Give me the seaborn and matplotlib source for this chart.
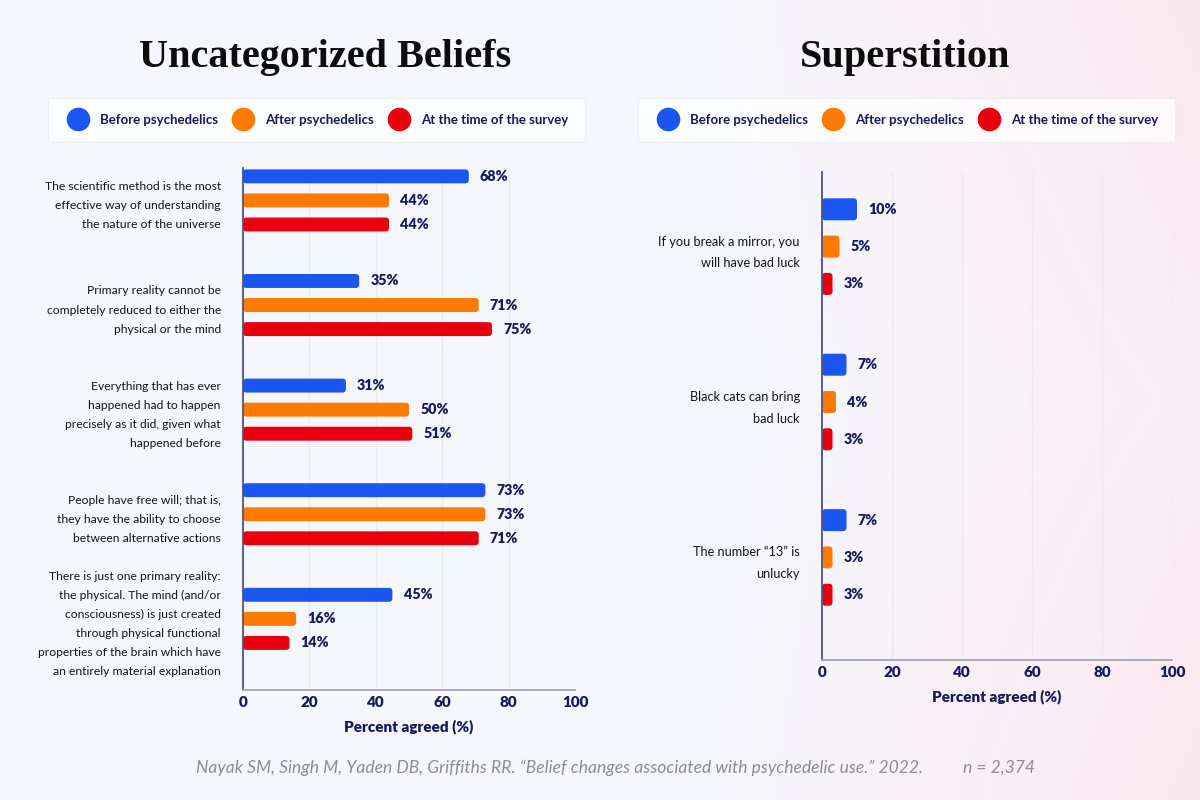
import numpy as np
import pandas as pd
import matplotlib.pyplot as plt
import seaborn as sns
from matplotlib.lines import Line2D
from matplotlib.patches import FancyBboxPatch

sns.set_style("white")
plt.rcParams['font.family'] = ['Lato', 'DejaVu Sans']

# ---- data ----
periods = ['Before psychedelics', 'After psychedelics', 'At the time of the survey']
colors = ['#1a56ef', '#ff7a00', '#e8000f']

left_statements = [
    "The scientific method is the most\neffective way of understanding\nthe nature of the universe",
    "Primary reality cannot be\ncompletely reduced to either the\nphysical or the mind",
    "Everything that has ever\nhappened had to happen\nprecisely as it did, given what\nhappened before",
    "People have free will; that is,\nthey have the ability to choose\nbetween alternative actions",
    "There is just one primary reality:\nthe physical. The mind (and/or\nconsciousness) is just created\nthrough physical functional\nproperties of the brain which have\nan entirely material explanation",
]
left_before = [68, 35, 31, 73, 45]
left_after = [44, 71, 50, 73, 16]
left_survey = [44, 75, 51, 71, 14]

right_statements = [
    "If you break a mirror, you\nwill have bad luck",
    "Black cats can bring\nbad luck",
    "The number \u201c13\u201d is\nunlucky",
]
right_before = [10, 7, 7]
right_after = [5, 4, 3]
right_survey = [3, 3, 3]

x_ticks = [0, 20, 40, 60, 80, 100]

navy = '#16195a'


def long_df(statements, before, after, survey):
    rows = []
    for vals, p in zip([before, after, survey], periods):
        for s, v in zip(statements, vals):
            rows.append({'statement': s, 'period': p, 'value': v})
    return pd.DataFrame(rows)


def round_bars(ax, radius_px=3.5):
    # swap seaborn's square rectangles for rounded ones of the same geometry
    fig_w, fig_h = ax.figure.get_size_inches() * ax.figure.dpi
    pos = ax.get_position()
    x0, x1 = ax.get_xlim()
    y0, y1 = ax.get_ylim()
    px_x = pos.width * fig_w / abs(x1 - x0)
    px_y = pos.height * fig_h / abs(y1 - y0)
    for p in list(ax.patches):
        x, y, w, h = p.get_x(), p.get_y(), p.get_width(), p.get_height()
        r = min(radius_px, w * px_x / 2, h * px_y / 2)
        fb = FancyBboxPatch((x, y), w, h,
                            boxstyle=f"round,pad=0,rounding_size={r / px_x}",
                            mutation_aspect=px_x / px_y,
                            facecolor=p.get_facecolor(), edgecolor='none', zorder=p.get_zorder())
        ax.add_patch(fb)
        p.set_visible(False)


df_left = long_df(left_statements, left_before, left_after, left_survey)
df_right = long_df(right_statements, right_before, right_after, right_survey)

fig = plt.figure(figsize=(12, 8), dpi=100)

# soft background gradient (bluish white -> pink on the right)
bg = fig.add_axes([0, 0, 1, 1], zorder=-10)
gx, gy = np.meshgrid(np.linspace(0, 1, 300), np.linspace(0, 1, 200))
w = np.clip((gx - 0.5) / 0.5, 0, 1) ** 1.6 * (0.55 + 0.9 * np.abs(gy - 0.5))
w = np.clip(w, 0, 1)
c0 = np.array([0.962, 0.970, 0.990])
c1 = np.array([0.992, 0.905, 0.935])
bg.imshow(c0 * (1 - w[..., None]) + c1 * w[..., None], aspect='auto', extent=[0, 1, 0, 1])
bg.axis('off')

ax_l = fig.add_axes([243 / 1200, 1 - 690 / 800, 332 / 1200, 522 / 800])
ax_r = fig.add_axes([822 / 1200, 1 - 660 / 800, 350 / 1200, 488 / 800])

sns.barplot(data=df_left, y='statement', x='value', hue='period', palette=colors,
            width=0.69, gap=0.42, saturation=1, ax=ax_l, legend=False)
sns.barplot(data=df_right, y='statement', x='value', hue='period', palette=colors,
            width=0.72, gap=0.41, saturation=1, ax=ax_r, legend=False)

ax_l.set_ylim(4.68, -0.31)
ax_r.set_ylim(2.66, -0.48)

for ax, lsp, lsize in [(ax_l, 1.9, 8.7), (ax_r, 1.95, 9.2)]:
    for cont in ax.containers:
        ax.bar_label(cont, fmt='{:.0f}%', padding=8, color=navy,
                     fontweight='heavy', fontsize=10.3)
    ax.set_facecolor('none')
    ax.set_xlim(0, 100)
    ax.set_xticks(x_ticks)
    ax.set_xticklabels([str(t) for t in x_ticks], fontweight='heavy', color=navy, fontsize=11)
    ax.tick_params(axis='x', length=0, pad=4)
    ax.tick_params(axis='y', length=0, pad=16, labelsize=lsize, labelcolor='#151515')
    for lbl in ax.get_yticklabels():
        lbl.set_linespacing(lsp)
        lbl.set_multialignment('right')
    ax.xaxis.grid(True, color='#ebebf1', lw=1)
    ax.set_axisbelow(True)
    for s in ['top', 'right']:
        ax.spines[s].set_visible(False)
    ax.spines['left'].set_color('#4c5183')
    ax.spines['left'].set_linewidth(1.3)
    ax.spines['bottom'].set_color('#a2a4ba')
    ax.spines['bottom'].set_linewidth(1.3)
    ax.set_ylabel('')
    ax.set_xlabel('Percent agreed (%)', fontweight='heavy', color=navy, fontsize=11, labelpad=8)
    round_bars(ax)

# titles
fig.text(325 / 1200, 1 - 58 / 800, 'Uncategorized Beliefs', family='Liberation Serif',
         weight='bold', size=29, ha='center', va='center', color='#0c0c0c')
fig.text(905 / 1200, 1 - 58 / 800, 'Superstition', family='Liberation Serif',
         weight='bold', size=29, ha='center', va='center', color='#0c0c0c')

# legends
handles = [Line2D([], [], marker='o', ls='none', markersize=16, markerfacecolor=c,
                  markeredgecolor=c) for c in colors]
for x0 in [48, 638]:
    leg = fig.legend(handles, periods, ncol=3, loc='center', mode='expand',
                     bbox_to_anchor=(x0 / 1200, 1 - 143 / 800, 537 / 1200, 46 / 800),
                     frameon=True, fancybox=True, borderpad=1.25, handletextpad=0.7,
                     borderaxespad=0, prop={'weight': 'bold', 'size': 9.5})
    leg.get_frame().set_facecolor('white')
    leg.get_frame().set_edgecolor('#ececf2')
    for t in leg.get_texts():
        t.set_color(navy)

# footer
fig.text(196 / 1200, 1 - 768 / 800,
         'Nayak SM, Singh M, Yaden DB, Griffiths RR. \u201cBelief changes associated with psychedelic use.\u201d 2022.',
         style='italic', color='#8d8d99', size=12.6, va='center')
fig.text(963 / 1200, 1 - 768 / 800, 'n = 2,374', style='italic', color='#8d8d99',
         size=12.6, va='center')

fig.savefig('out.png', dpi=100)
